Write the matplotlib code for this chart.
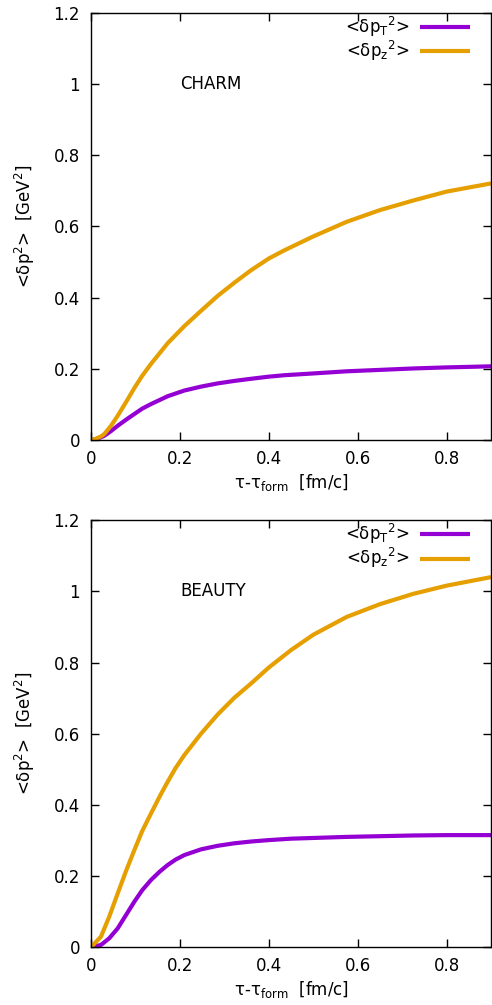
import matplotlib
matplotlib.use("Agg")
import matplotlib.pyplot as plt
import matplotlib.ticker as mticker

plt.rcParams['font.family'] = ['DejaVu Sans']
plt.rcParams['mathtext.default'] = 'regular'

# values
# CHARM panel
charm_x = [0.0, 0.01, 0.0225, 0.03, 0.045, 0.06, 0.08, 0.0975, 0.115, 0.135, 0.1725,
           0.21, 0.2475, 0.285, 0.3225, 0.36, 0.40, 0.435, 0.50, 0.575, 0.65,
           0.725, 0.80, 0.90]
charm_pz = [0.0, 0.003, 0.010, 0.017, 0.040, 0.068, 0.109, 0.146, 0.180, 0.214, 0.272,
            0.320, 0.363, 0.405, 0.442, 0.477, 0.510, 0.533, 0.572, 0.613, 0.646,
            0.673, 0.698, 0.721]
charm_pt = [0.0, 0.002, 0.0075, 0.012, 0.025, 0.040, 0.058, 0.073, 0.088, 0.101, 0.123,
            0.139, 0.150, 0.159, 0.166, 0.172, 0.178, 0.182, 0.187, 0.193, 0.197,
            0.201, 0.204, 0.207]

# BEAUTY panel
beauty_x = [0.0, 0.0225, 0.041, 0.06, 0.079, 0.0975, 0.115, 0.135, 0.155, 0.1725,
            0.19, 0.21, 0.2475, 0.285, 0.3225, 0.36, 0.40, 0.45, 0.50, 0.575,
            0.65, 0.725, 0.80, 0.90]
beauty_pz = [0.0, 0.030, 0.086, 0.151, 0.215, 0.273, 0.326, 0.376, 0.425, 0.465,
             0.503, 0.540, 0.600, 0.654, 0.701, 0.741, 0.786, 0.835, 0.878, 0.928,
             0.964, 0.993, 1.016, 1.040]
beauty_pt = [0.0, 0.0065, 0.025, 0.053, 0.091, 0.128, 0.160, 0.189, 0.213, 0.231,
             0.246, 0.259, 0.275, 0.285, 0.292, 0.297, 0.301, 0.305, 0.307, 0.310,
             0.312, 0.314, 0.315, 0.315]

labels = ['<δp$_{T}{}^{2}$>', '<δp$_{z}{}^{2}$>']
colors = ['#9400D3', '#E69F00']
yticks = [0, 0.2, 0.4, 0.6, 0.8, 1.0, 1.2]
xticks = [0, 0.2, 0.4, 0.6, 0.8]

fig = plt.figure(figsize=(4.92, 10.05), dpi=100)

panels = [
    ("CHARM", charm_x, charm_pt, charm_pz, [0.185, 0.5622, 0.813, 0.4249]),
    ("BEAUTY", beauty_x, beauty_pt, beauty_pz, [0.185, 0.0575, 0.813, 0.4249]),
]

fmt = mticker.FuncFormatter(lambda v, p: '%g' % v)
fs = 12

for name, x, pt, pz, rect in panels:
    ax = fig.add_axes(rect)
    ax.plot(x, pt, color=colors[0], lw=3, label=labels[0], solid_capstyle='butt')
    ax.plot(x, pz, color=colors[1], lw=3, label=labels[1], solid_capstyle='butt')
    ax.set_xlim(0, 0.9)
    ax.set_ylim(0, 1.2)
    ax.set_xticks(xticks)
    ax.set_yticks(yticks)
    ax.xaxis.set_major_formatter(fmt)
    ax.yaxis.set_major_formatter(fmt)
    ax.tick_params(direction='in', length=6, width=1, top=True, right=True,
                   labelsize=fs)
    ax.tick_params(axis='y', pad=8)
    ax.tick_params(axis='x', pad=7)
    for s in ax.spines.values():
        s.set_linewidth(1)
    ax.text(0.2, 1.0, name, fontsize=fs, va='center', ha='left')
    ax.set_xlabel('τ-τ$_{form}$  [fm/c]', fontsize=fs, labelpad=3)
    ax.set_ylabel('<δp$^2$>  [GeV$^2$]', fontsize=fs, labelpad=12)
    ax.legend(loc='upper right', bbox_to_anchor=(1 - 21 / 400, 1 - 2 / 427),
              frameon=False, markerfirst=False, fontsize=fs,
              handlelength=3.0, handletextpad=0.6, borderaxespad=0.0,
              labelspacing=0.0, borderpad=0.0)

fig.savefig('out.png', dpi=100)
